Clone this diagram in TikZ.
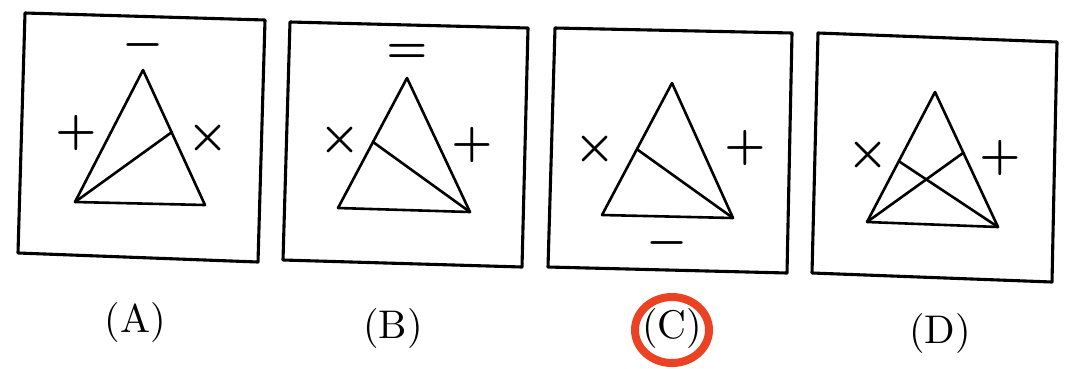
\documentclass[tikz,border=0pt]{standalone}
\usepackage{tikz}
\usetikzlibrary{calc}
\definecolor{markred}{RGB}{236,66,36}

\begin{document}
\begin{tikzpicture}[
        x=1pt, y=-1pt,
        line join=round, line cap=round,
        framebox/.style={draw=black, line width=3.1pt},
        tri/.style={draw=black, line width=2.6pt},
        sign/.style={inner sep=0pt, scale=4.6, font=\boldmath},
        caption/.style={inner sep=0pt, scale=4.0},
        ring/.style={draw=markred, line width=8pt}
    ]
    \useasboundingbox (0,0) rectangle (1070,368);
    \fill[white] (0,0) rectangle (1070,368);

    % 1. Khung (A)
    \draw[framebox] (25,13) -- (265,20) -- (258,262) -- (18,253) -- cycle;
    \coordinate (a-top) at (143,70);
    \coordinate (a-left) at (75,202);
    \coordinate (a-right) at (205,205);
    \coordinate (a-cut) at (172,132);
    \draw[tri] (a-top) -- (a-left) -- (a-right) -- cycle;
    \draw[tri] (a-left) -- (a-cut);
    \node[sign] (a-minus) at (143,45) {$-$};
    \node[sign] (a-plus) at (76,133) {$+$};
    \node[sign] (a-times) at (208,138) {$\times$};
    \node[caption] (capA) at (135,322) {(A)};

    % 2. Khung (B)
    \draw[framebox] (290,22) -- (528,28) -- (522,267) -- (283,260) -- cycle;
    \coordinate (b-top) at (407,78);
    \coordinate (b-left) at (338,208);
    \coordinate (b-right) at (470,212);
    \coordinate (b-cut) at (373,142);
    \draw[tri] (b-top) -- (b-left) -- (b-right) -- cycle;
    \draw[tri] (b-right) -- (b-cut);
    \node[sign] (b-eq) at (407,53) {$=$};
    \node[sign] (b-times) at (340,140) {$\times$};
    \node[sign] (b-plus) at (472,145) {$+$};
    \node[caption] (capB) at (393,328) {(B)};

    % 3. Khung (C) -- dap an duoc khoanh
    \draw[framebox] (555,28) -- (792,33) -- (787,273) -- (548,267) -- cycle;
    \coordinate (c-top) at (672,83);
    \coordinate (c-left) at (602,215);
    \coordinate (c-right) at (733,218);
    \coordinate (c-cut) at (638,150);
    \draw[tri] (c-top) -- (c-left) -- (c-right) -- cycle;
    \draw[tri] (c-right) -- (c-cut);
    \node[sign] (c-times) at (595,149) {$\times$};
    \node[sign] (c-plus) at (745,148) {$+$};
    \node[sign] (c-minus) at (667,243) {$-$};
    \draw[ring] (672,330) ellipse [x radius=37, y radius=33];
    \node[caption] (capC) at (672,328) {(C)};

    % 4. Khung (D)
    \draw[framebox] (818,33) -- (1057,42) -- (1052,282) -- (812,273) -- cycle;
    \coordinate (d-top) at (935,92);
    \coordinate (d-left) at (867,222);
    \coordinate (d-right) at (998,227);
    \coordinate (d-cutr) at (963,153);
    \coordinate (d-cutl) at (900,162);
    \draw[tri] (d-top) -- (d-left) -- (d-right) -- cycle;
    \draw[tri] (d-left) -- (d-cutr);
    \draw[tri] (d-right) -- (d-cutl);
    \node[sign] (d-times) at (868,155) {$\times$};
    \node[sign] (d-plus) at (1000,158) {$+$};
    \node[caption] (capD) at (940,333) {(D)};

\end{tikzpicture}
\end{document}
